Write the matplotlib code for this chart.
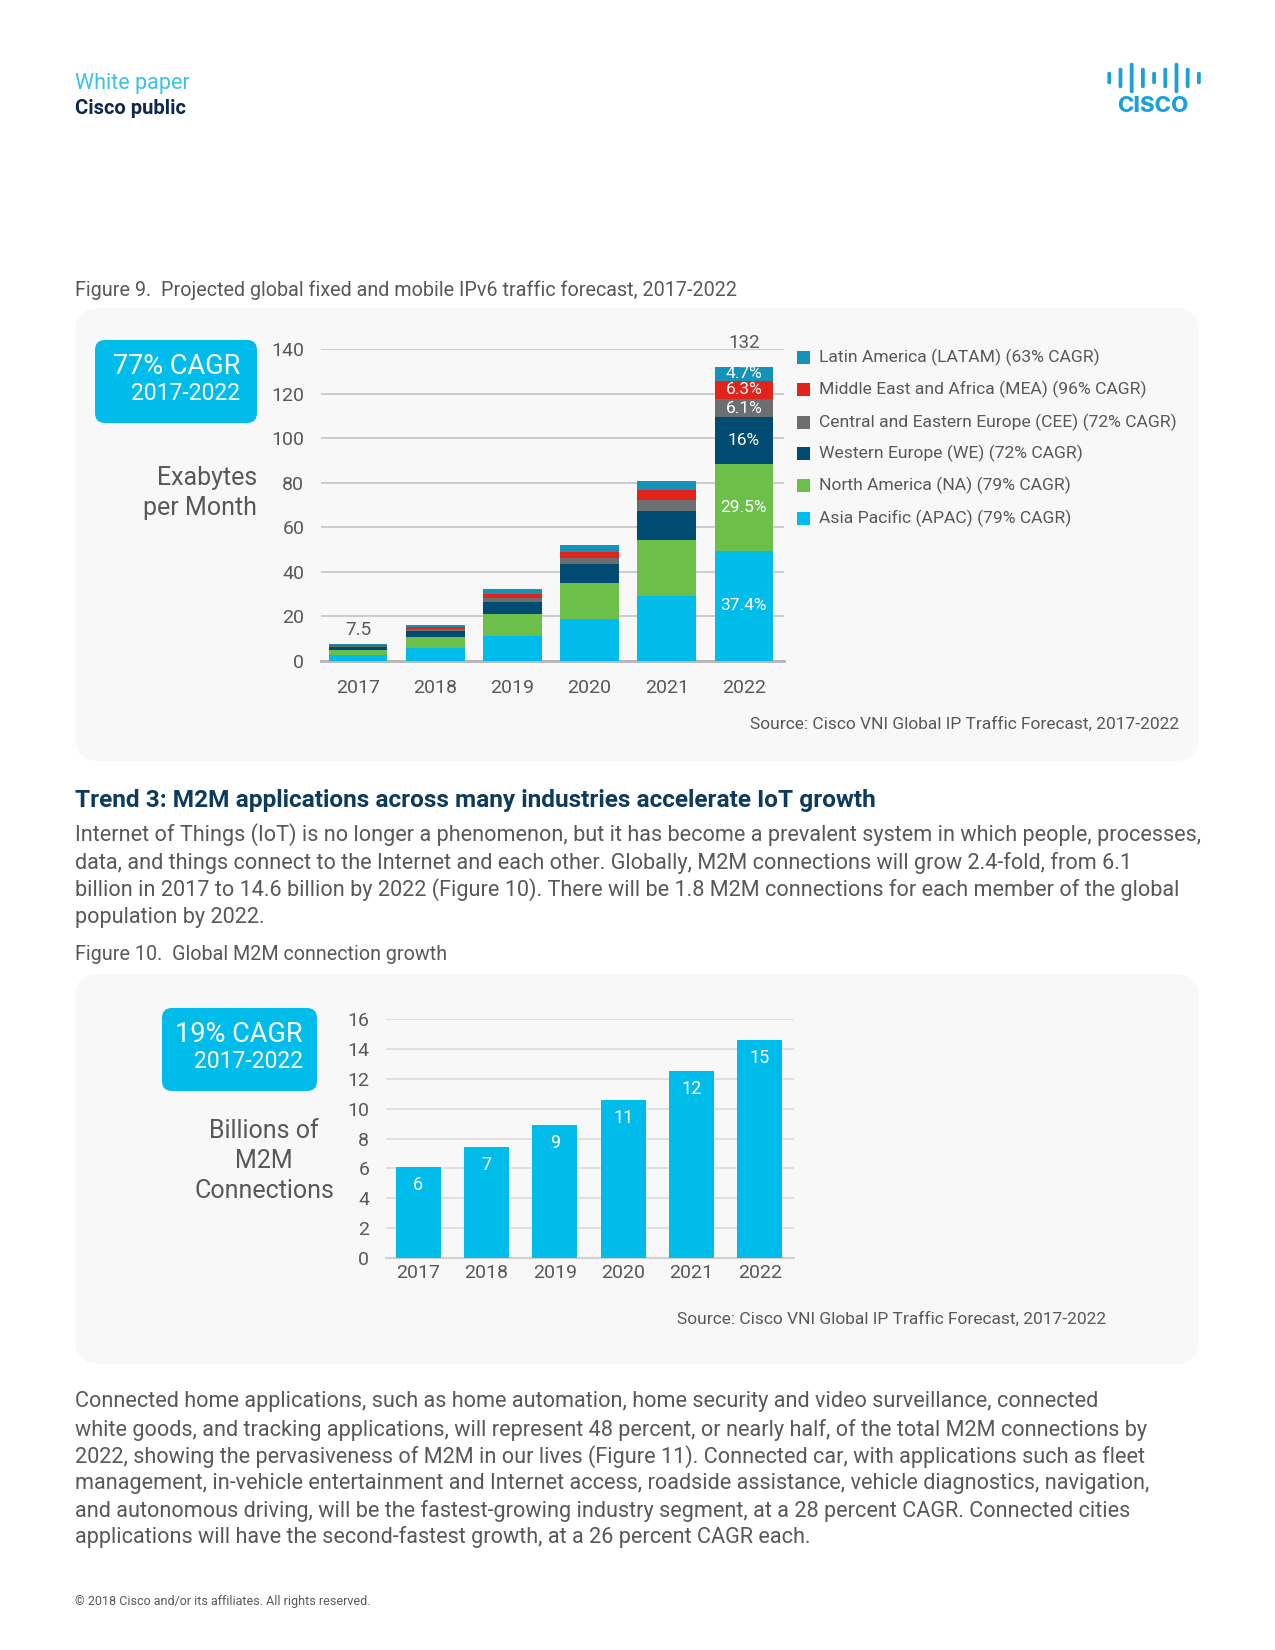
import numpy as np
import matplotlib
matplotlib.use("Agg")
import matplotlib.pyplot as plt
from matplotlib.patches import FancyBboxPatch, Rectangle

plt.rcParams['font.family'] = ['Roboto', 'DejaVu Sans']

# ---- data: Figure 9 (exabytes per month, stacked bottom -> top)
years = ['2017', '2018', '2019', '2020', '2021', '2022']
apac = [2.6, 5.9, 11.2, 18.7, 29.2, 49.4]
na = [2.3, 5.0, 9.8, 16.2, 25.1, 38.9]
we = [1.3, 2.7, 5.5, 8.5, 13.1, 21.1]
cee = [0.5, 0.8, 1.9, 3.0, 4.8, 8.1]
mea = [0.3, 0.7, 1.5, 2.7, 4.5, 8.3]
latam = [0.5, 1.1, 2.3, 2.9, 4.1, 6.2]
region_names = ['Asia Pacific (APAC) (79% CAGR)', 'North America (NA) (79% CAGR)',
                'Western Europe (WE) (72% CAGR)', 'Central and Eastern Europe (CEE) (72% CAGR)',
                'Middle East and Africa (MEA) (96% CAGR)', 'Latin America (LATAM) (63% CAGR)']
share_2022 = ['37.4%', '29.5%', '16%', '6.1%', '6.3%', '4.7%']
total_labels = {0: '7.5', 5: '132'}

# ---- data: Figure 10 (billions of M2M connections)
m2m = [6.1, 7.4, 8.9, 10.6, 12.5, 14.6]
m2m_labels = ['6', '7', '9', '11', '12', '15']

CISCO_BLUE = '#00bceb'
GREY_TXT = '#58585b'
NAVY = '#0d3b5e'
colors = ['#00bceb', '#6cc04a', '#004b72', '#6d6e70', '#e2231a', '#1592b8']

W, H = 1275, 1650
fig = plt.figure(figsize=(W / 100, H / 100), dpi=100)

# page layer in pixel coordinates
pg = fig.add_axes([0, 0, 1, 1])
pg.set_xlim(0, W)
pg.set_ylim(H, 0)
pg.axis('off')


def rbox(x0, y0, x1, y1, r, color):
    pg.add_patch(FancyBboxPatch((x0 + r, y0 + r), x1 - x0 - 2 * r, y1 - y0 - 2 * r,
                                boxstyle=f"round,pad={r}", fc=color, ec='none', zorder=0))


def txt(x, y, s, size, color=GREY_TXT, **kw):
    kw.setdefault('va', 'center')
    pg.text(x, y, s, fontsize=size, color=color, **kw)


# header
txt(75, 84, 'White paper', 15.5, color='#3cc1ea')
txt(75, 109, 'Cisco public', 14.5, color='#0d274d', weight='bold')

# cisco logo
bar_h = [12, 20, 30, 20, 12, 20, 30, 20, 12]
for i, h in enumerate(bar_h):
    bx = 1109 + i * 11.2
    pg.add_patch(FancyBboxPatch((bx, 78 - h / 2 + 1.5), 0.6, h - 3,
                                boxstyle="round,pad=1.6", fc='#1ba0d7', ec='none'))
pg.text(1153, 106, 'CISCO', fontsize=16, color='#1ba0d7', weight='heavy', ha='center',
        va='center', family=['Inter', 'DejaVu Sans'])

# ---------------- Figure 9
txt(75, 290, 'Figure 9.  Projected global fixed and mobile IPv6 traffic forecast, 2017-2022', 14.2)
rbox(75, 308, 1199, 761, 24, '#f8f8f8')
rbox(95, 340, 257, 423, 10, CISCO_BLUE)
txt(240, 367, '77% CAGR', 19.5, color='white', ha='right')
txt(240, 394, '2017-2022', 16.5, color='white', ha='right')
txt(257, 478, 'Exabytes', 18, ha='right')
txt(257, 508, 'per Month', 18, ha='right')
txt(1179, 724, 'Source: Cisco VNI Global IP Traffic Forecast, 2017-2022', 12.5, ha='right')

ax1 = fig.add_axes([321 / W, 1 - 661 / H, (784 - 321) / W, (661 - 349) / H])
ax1.patch.set_alpha(0)
x = np.arange(len(years))
series = [apac, na, we, cee, mea, latam]
bottom = np.zeros(len(years))
for vals, c, name in zip(series, colors, region_names):
    ax1.bar(x, vals, 0.76, bottom=bottom, color=c, label=name, zorder=3)
    bottom += np.array(vals)
for i, s in enumerate(share_2022):
    yc = sum(v[5] for v in series[:i]) + series[i][5] / 2
    ax1.text(5, yc, s, ha='center', va='center', color='white', fontsize=12.5, zorder=4)
lift = {0: 4, 5: 11}
for i, s in total_labels.items():
    ax1.annotate(s, (i, bottom[i]), xytext=(0, lift[i]), textcoords='offset points',
                 ha='center', va='bottom', color=GREY_TXT, fontsize=13.5)

ax1.set_xlim(-0.48, 5.52)
ax1.set_ylim(0, 140)
ax1.set_yticks(range(0, 141, 20))
ax1.set_xticks(x, years)
ax1.yaxis.grid(True, color='#c4c4c4', lw=1.2, zorder=0)
for sp in ['top', 'right', 'left']:
    ax1.spines[sp].set_visible(False)
ax1.spines['bottom'].set_color('#b5b5b5')
ax1.spines['bottom'].set_linewidth(2)
ax1.tick_params(length=0, colors=GREY_TXT, labelsize=14)
ax1.tick_params(axis='y', pad=12)
ax1.tick_params(axis='x', pad=13)

# legend (drawn top -> bottom: LATAM first)
leg_y = [357, 389, 422, 453, 485, 518]
for yy, name, c in zip(leg_y, region_names[::-1], colors[::-1]):
    pg.add_patch(Rectangle((797, yy - 6.5), 13, 13, fc=c, ec='none'))
    txt(819, yy, name, 12.6)

# ---------------- body text
txt(75, 800, 'Trend 3: M2M applications across many industries accelerate IoT growth', 17.6,
    color=NAVY, weight='bold')
para1 = ['Internet of Things (IoT) is no longer a phenomenon, but it has become a prevalent system in which people, processes,',
         'data, and things connect to the Internet and each other. Globally, M2M connections will grow 2.4-fold, from 6.1',
         'billion in 2017 to 14.6 billion by 2022 (Figure 10). There will be 1.8 M2M connections for each member of the global',
         'population by 2022.']
for yy, line in zip([835, 863, 890, 917], para1):
    txt(75, yy, line, 15.6)

# ---------------- Figure 10
txt(75, 955, 'Figure 10.  Global M2M connection growth', 14.2)
rbox(75, 974, 1199, 1364, 24, '#f8f8f8')
rbox(162, 1008, 317, 1091, 10, CISCO_BLUE)
txt(303, 1035, '19% CAGR', 19.5, color='white', ha='right')
txt(303, 1061, '2017-2022', 16.5, color='white', ha='right')
txt(264, 1161, 'Billions of\nM2M\nConnections', 18, ha='center', multialignment='center',
    linespacing=1.3)
txt(1106, 1319, 'Source: Cisco VNI Global IP Traffic Forecast, 2017-2022', 12.5, ha='right')

ax2 = fig.add_axes([386 / W, 1 - 1258 / H, (794 - 386) / W, (1258 - 1019) / H])
ax2.patch.set_alpha(0)
ax2.bar(x, m2m, 0.66, color=CISCO_BLUE, zorder=3)
for i, s in enumerate(m2m_labels):
    ax2.text(i, m2m[i] - 0.6, s, ha='center', va='top', color='white', fontsize=13, zorder=4)
ax2.set_xlim(-0.47, 5.50)
ax2.set_ylim(0, 16)
ax2.set_yticks(range(0, 17, 2))
ax2.set_xticks(x, years)
ax2.yaxis.grid(True, color='#dcdcdc', lw=1.2, zorder=0)
for sp in ['top', 'right', 'left']:
    ax2.spines[sp].set_visible(False)
ax2.spines['bottom'].set_color('#d0d0d0')
ax2.spines['bottom'].set_linewidth(1.5)
ax2.tick_params(length=0, colors=GREY_TXT, labelsize=14)
ax2.tick_params(axis='y', pad=12)
ax2.tick_params(axis='x', pad=4)

para2 = ['Connected home applications, such as home automation, home security and video surveillance, connected',
         'white goods, and tracking applications, will represent 48 percent, or nearly half, of the total M2M connections by',
         '2022, showing the pervasiveness of M2M in our lives (Figure 11). Connected car, with applications such as fleet',
         'management, in-vehicle entertainment and Internet access, roadside assistance, vehicle diagnostics, navigation,',
         'and autonomous driving, will be the fastest-growing industry segment, at a 28 percent CAGR. Connected cities',
         'applications will have the second-fastest growth, at a 26 percent CAGR each.']
for yy, line in zip([1402, 1430, 1457, 1483, 1511, 1537], para2):
    txt(75, yy, line, 15.6)

txt(75, 1602, '\u00a9 2018 Cisco and/or its affiliates. All rights reserved.', 9)

fig.savefig('out.png', dpi=100)
